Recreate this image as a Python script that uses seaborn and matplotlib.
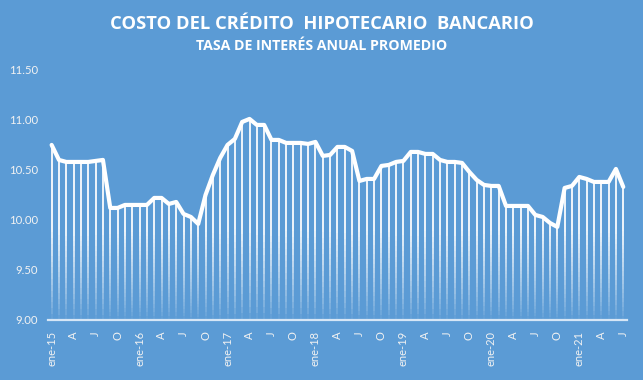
import numpy as np
import pandas as pd
import matplotlib
matplotlib.use("Agg")
import matplotlib.pyplot as plt
import seaborn as sns
from matplotlib.collections import LineCollection

# ──────────────────────────────────────────
# Data: tasa de interés anual promedio (ene-15 … jul-21)
# ──────────────────────────────────────────
years = ["15", "16", "17", "18", "19", "20", "21"]
rate_2015 = [10.75, 10.60, 10.58, 10.58, 10.58, 10.58, 10.59, 10.60, 10.12, 10.12, 10.15, 10.15]
rate_2016 = [10.15, 10.15, 10.22, 10.22, 10.16, 10.18, 10.06, 10.03, 9.96, 10.25, 10.45, 10.62]
rate_2017 = [10.75, 10.81, 10.98, 11.01, 10.95, 10.95, 10.80, 10.80, 10.77, 10.77, 10.77, 10.76]
rate_2018 = [10.78, 10.64, 10.65, 10.73, 10.73, 10.69, 10.39, 10.41, 10.41, 10.54, 10.55, 10.58]
rate_2019 = [10.59, 10.68, 10.68, 10.66, 10.66, 10.60, 10.58, 10.58, 10.57, 10.48, 10.40, 10.35]
rate_2020 = [10.34, 10.34, 10.14, 10.14, 10.14, 10.14, 10.05, 10.03, 9.97, 9.93, 10.32, 10.34]
rate_2021 = [10.43, 10.41, 10.38, 10.38, 10.38, 10.51, 10.33]

quarter_labels = ["ene-{}", "A", "J", "O"]
y_ticks = [9.0, 9.5, 10.0, 10.5, 11.0, 11.5]

rates = rate_2015 + rate_2016 + rate_2017 + rate_2018 + rate_2019 + rate_2020 + rate_2021
df = pd.DataFrame({"mes": np.arange(len(rates)), "tasa": rates})

tick_pos = list(range(0, len(rates), 3))
tick_lab = []
for p in tick_pos:
    q = (p % 12) // 3
    lab = quarter_labels[q]
    tick_lab.append(lab.format(years[p // 12]) if q == 0 else lab)

# ──────────────────────────────────────────
# Style
# ──────────────────────────────────────────
BG = "#5B9BD5"
TXT = "#F2F2F2"
sns.set_style("white")
plt.rcParams["font.family"] = ["Lato", "DejaVu Sans"]

fig = plt.figure(figsize=(6.43, 3.80), dpi=100, facecolor=BG)
ax = fig.add_axes([0.0746, 0.158, 0.9004, 0.658])
ax.set_facecolor(BG)

y0 = 9.0

# drop lines fading toward the axis
n_steps = 30
segs, cols = [], []
for x, v in zip(df["mes"], df["tasa"]):
    edges = np.linspace(y0, v, n_steps + 1)
    for a, b in zip(edges[:-1], edges[1:]):
        segs.append([(x, a), (x, b)])
        alpha = np.clip(((a + b) / 2 - y0) / 0.9, 0, 1) ** 0.8 * 0.9
        cols.append((1, 1, 1, alpha))
ax.add_collection(LineCollection(segs, colors=cols, linewidths=1.4, zorder=2))

sns.lineplot(data=df, x="mes", y="tasa", ax=ax, color="white", linewidth=3.0,
             solid_joinstyle="round", solid_capstyle="round", zorder=3)

ax.set_xlim(-0.5, len(rates) - 0.5)
ax.set_ylim(y0, 11.5)
ax.set_yticks(y_ticks)
ax.set_yticklabels([f"{t:.2f}" for t in y_ticks], color=TXT, fontsize=8.2)
ax.set_xticks(tick_pos)
ax.set_xticklabels(tick_lab, rotation=90, color=TXT, fontsize=8)
ax.tick_params(axis="x", length=0, pad=8)
ax.tick_params(axis="y", length=0, pad=7)
ax.set_xlabel("")
ax.set_ylabel("")

for s in ["top", "right", "left"]:
    ax.spines[s].set_visible(False)
ax.spines["bottom"].set_color("#D6E6F6")
ax.spines["bottom"].set_linewidth(1.6)

fig.text(0.5, 0.937, "COSTO DEL CRÉDITO  HIPOTECARIO  BANCARIO", ha="center", va="center",
         color="white", fontsize=13.2, fontweight="bold", family=["Open Sans", "DejaVu Sans"])
fig.text(0.5, 0.878, "TASA DE INTERÉS ANUAL PROMEDIO", ha="center", va="center",
         color="white", fontsize=10.2, fontweight="bold", family=["Open Sans", "DejaVu Sans"])

fig.savefig("out.png", dpi=100, facecolor=BG)
